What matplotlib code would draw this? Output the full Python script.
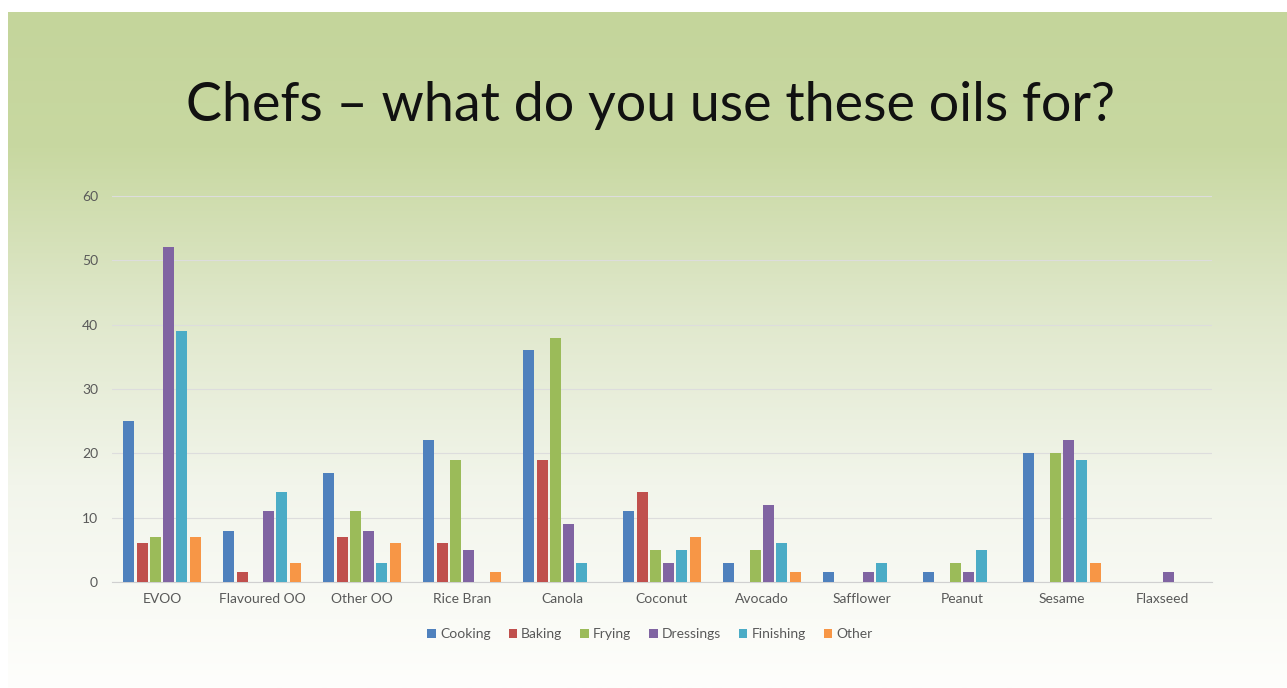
import matplotlib
matplotlib.use("Agg")
import matplotlib.pyplot as plt
import numpy as np
from matplotlib.colors import LinearSegmentedColormap
from matplotlib.patches import Patch

plt.rcParams['font.family'] = ['Lato', 'DejaVu Sans']

oils = ["EVOO", "Flavoured OO", "Other OO", "Rice Bran", "Canola", "Coconut",
        "Avocado", "Safflower", "Peanut", "Sesame", "Flaxseed"]
uses = ["Cooking", "Baking", "Frying", "Dressings", "Finishing", "Other"]

cooking   = [25, 8, 17, 22, 36, 11, 3, 1.5, 1.5, 20, 0]
baking    = [6, 1.5, 7, 6, 19, 14, 0, 0, 0, 0, 0]
frying    = [7, 0, 11, 19, 38, 5, 5, 0, 3, 20, 0]
dressings = [52, 11, 8, 5, 9, 3, 12, 1.5, 1.5, 22, 1.5]
finishing = [39, 14, 3, 0, 3, 5, 6, 3, 5, 19, 0]
other     = [7, 3, 6, 1.5, 0, 7, 1.5, 0, 0, 3, 0]

yticks = [0, 10, 20, 30, 40, 50, 60]

series = [cooking, baking, frying, dressings, finishing, other]
colors = ["#4F81BD", "#C0504D", "#9BBB59", "#8064A2", "#4BACC6", "#F79646"]

W, H = 1287, 688
fig = plt.figure(figsize=(W / 100, H / 100), dpi=100)
fig.patch.set_facecolor("white")

# slide background: green-to-white vertical gradient
bg = fig.add_axes([8 / W, 0, 1 - 8 / W, 1 - 12 / H], zorder=-10)
grad_cmap = LinearSegmentedColormap.from_list(
    "slide",
    [(0.0, (196/255, 213/255, 155/255)),
     (0.2, (200/255, 216/255, 161/255)),
     (0.45, (224/255, 232/255, 204/255)),
     (0.7, (242/255, 245/255, 235/255)),
     (1.0, (254/255, 254/255, 252/255))])
bg.imshow(np.linspace(0, 1, 256).reshape(-1, 1), aspect="auto", cmap=grad_cmap,
          extent=[0, 1, 0, 1], origin="upper")
bg.set_axis_off()

fig.text(650 / W, 1 - 106 / H, "Chefs \u2013 what do you use these oils for?",
         ha="center", va="center", fontsize=38.8, color="#111111")

ax = fig.add_axes([112 / W, 1 - 582 / H, 1100 / W, (582 - 196) / H])
ax.set_facecolor("none")

x = np.arange(len(oils))
pitch = 0.133
width = 0.11
for i, (vals, c, name) in enumerate(zip(series, colors, uses)):
    offs = (i - 2.5) * pitch
    ax.bar(x + offs, vals, width=width, color=c, label=name, zorder=3)

ax.set_xlim(-0.5, len(oils) - 0.5)
ax.set_ylim(0, 60)
ax.set_yticks(yticks)
ax.set_xticks(x)
ax.set_xticklabels(oils)
ax.tick_params(axis="both", length=0, labelsize=10, labelcolor="#595959")
ax.tick_params(axis="y", pad=10)
ax.tick_params(axis="x", pad=8)
ax.grid(axis="y", color="#DDDDDD", linewidth=0.8, zorder=0)
for s in ["top", "right", "left"]:
    ax.spines[s].set_visible(False)
ax.spines["bottom"].set_color("#D0D0D0")
ax.spines["bottom"].set_linewidth(0.8)

handles = [Patch(facecolor=c, edgecolor="none", label=u) for c, u in zip(colors, uses)]
fig.legend(handles=handles, loc="center", bbox_to_anchor=(650 / W, 1 - 634 / H),
           ncol=6, frameon=False, fontsize=10, labelcolor="#595959",
           handlelength=0.6, handleheight=0.6, handletextpad=0.3, columnspacing=1.3)

fig.savefig("out.png", dpi=100)
